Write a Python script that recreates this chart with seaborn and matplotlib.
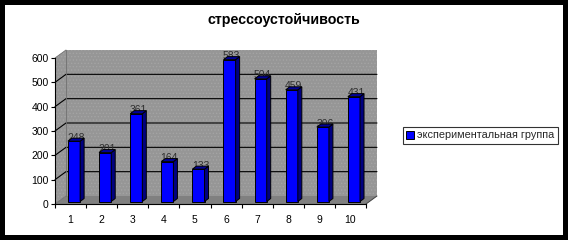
import numpy as np
import pandas as pd
import matplotlib
matplotlib.use('Agg')
import matplotlib.pyplot as plt
import seaborn as sns
from matplotlib.patches import Polygon, Rectangle, Patch
from matplotlib.ticker import FixedLocator

categories = ['1', '2', '3', '4', '5', '6', '7', '8', '9', '10']
values = [248, 201, 361, 164, 133, 583, 504, 459, 306, 431]
y_ticks = [0, 100, 200, 300, 400, 500, 600]
title = 'стрессоустойчивость'
series_name = 'экспериментальная группа'

sns.set_theme(style='white')
plt.rcParams['font.family'] = ['Liberation Sans', 'DejaVu Sans']
plt.rcParams['hatch.linewidth'] = 0.6

W, H = 568, 240
fig = plt.figure(figsize=(W / 100, H / 100), dpi=100)
fig.patch.set_facecolor('black')
fig.patches.append(Rectangle((5 / W, 5 / H), 558 / W, 230 / H, transform=fig.transFigure,
                             facecolor='white', edgecolor='none', zorder=-5))

# front plane of the 3-D plot area
L, R, T, B = 55, 366, 58, 204
ax = fig.add_axes([L / W, (H - B) / H, (R - L) / W, (B - T) / H])
ax.patch.set_alpha(0)

df = pd.DataFrame({'cat': categories, 'value': values})
sns.barplot(data=df, x='cat', y='value', ax=ax, color='#0000FF', width=0.39,
            saturation=1, edgecolor='black', linewidth=0.7, zorder=5)
ax.set_xlim(-0.5, len(categories) - 0.5)
ax.set_ylim(y_ticks[0], y_ticks[-1])

cx = len(categories) / (R - L)          # category units per pixel
cy = (y_ticks[-1] - y_ticks[0]) / (B - T)  # value units per pixel
DX, DY = 11 * cx, 8 * cy                 # depth of the box
x0, x1 = -0.5, len(categories) - 0.5
y0, y1 = y_ticks[0], y_ticks[-1]

wall_c, floor_c = '#969696', '#808080'
ax.add_patch(Polygon([(x0 + DX, y0 + DY), (x1 + DX, y0 + DY), (x1 + DX, y1 + DY), (x0 + DX, y1 + DY)],
                     closed=True, facecolor=wall_c, edgecolor='#a4a4a4', hatch='.....',
                     linewidth=0, clip_on=False, zorder=1))
ax.add_patch(Polygon([(x0, y0), (x0 + DX, y0 + DY), (x0 + DX, y1 + DY), (x0, y1)],
                     closed=True, facecolor=wall_c, edgecolor='#a4a4a4', hatch='.....',
                     linewidth=0, clip_on=False, zorder=1))
ax.add_patch(Polygon([(x0, y0), (x1, y0), (x1 + DX, y0 + DY), (x0 + DX, y0 + DY)],
                     closed=True, facecolor=floor_c, edgecolor='none', clip_on=False, zorder=1))
for t in y_ticks[1:-1]:
    ax.plot([x0, x0 + DX, x1 + DX], [t, t + DY, t + DY], color='black', lw=0.8,
            clip_on=False, zorder=2)
ax.plot([x0 + DX, x0 + DX], [y0 + DY, y1 + DY], color='#707070', lw=0.6, clip_on=False, zorder=2)
ax.plot([x0, x0 + DX], [y1, y1 + DY], color='#707070', lw=0.6, clip_on=False, zorder=2)
ax.plot([x0, x0 + DX], [y0, y0 + DY], color='#707070', lw=0.6, clip_on=False, zorder=2)
ax.plot([x1, x1 + DX], [y0, y0 + DY], color='#404040', lw=0.7, clip_on=False, zorder=2)

# 3-D bars
ox, oy = 3.5 * cx, 2.5 * cy
dxb, dyb = 4 * cx, 3 * cy
for patch, v in zip(ax.containers[0].patches, values):
    patch.set_x(patch.get_x() + ox)
    patch.set_y(patch.get_y() + oy)
    bx0 = patch.get_x()
    bx1 = bx0 + patch.get_width()
    by0 = patch.get_y()
    by1 = by0 + patch.get_height()
    ax.add_patch(Polygon([(bx1, by0), (bx1 + dxb, by0 + dyb), (bx1 + dxb, by1 + dyb), (bx1, by1)],
                         closed=True, facecolor='#000080', edgecolor='black', linewidth=0.7,
                         clip_on=False, zorder=5))
    ax.add_patch(Polygon([(bx0, by1), (bx0 + dxb, by1 + dyb), (bx1 + dxb, by1 + dyb), (bx1, by1)],
                         closed=True, facecolor='#000099', edgecolor='black', linewidth=0.7,
                         clip_on=False, zorder=5))
    ax.text((bx0 + bx1) / 2 + dxb / 2, by1 + 0.5 * cy, str(v), ha='center', va='baseline',
            fontsize=7.5, color='#303030', zorder=3, clip_on=False)

# axes styling
for s in ['top', 'right']:
    ax.spines[s].set_visible(False)
for s in ['left', 'bottom']:
    ax.spines[s].set_color('black')
    ax.spines[s].set_linewidth(0.8)
    ax.spines[s].set_zorder(6)
ax.set_yticks(y_ticks)
ax.set_yticklabels([str(t) for t in y_ticks])
ax.set_xticks(range(len(categories)))
ax.set_xticklabels(categories)
ax.xaxis.set_minor_locator(FixedLocator(np.arange(-0.5, len(categories), 1.0)))
ax.tick_params(axis='y', which='major', direction='out', length=3, width=0.8, color='black',
               labelsize=7.5, labelcolor='black', pad=1.5, left=True)
ax.tick_params(axis='x', which='major', length=0, labelsize=7.5, labelcolor='black', pad=8)
ax.tick_params(axis='x', which='minor', direction='out', length=3, width=0.8, color='black',
               bottom=True)
ax.set_xlabel('')
ax.set_ylabel('')

fig.text(284 / W, 1 - 20 / H, title, ha='center', va='center', fontsize=10.3, fontweight='bold',
         color='black')

handles = [Patch(facecolor='#0000FF', edgecolor='black', linewidth=0.7)]
leg = fig.legend(handles, [series_name], loc='center left', bbox_to_anchor=(403 / W, 1 - 135.5 / H),
                 frameon=True, fancybox=False, fontsize=7.8, borderpad=0.3, handlelength=0.7,
                 handleheight=0.7, handletextpad=0.3, borderaxespad=0)
leg.get_frame().set_edgecolor('black')
leg.get_frame().set_linewidth(0.8)
leg.get_frame().set_facecolor('white')

fig.savefig('out.png', dpi=100, facecolor=fig.get_facecolor())
